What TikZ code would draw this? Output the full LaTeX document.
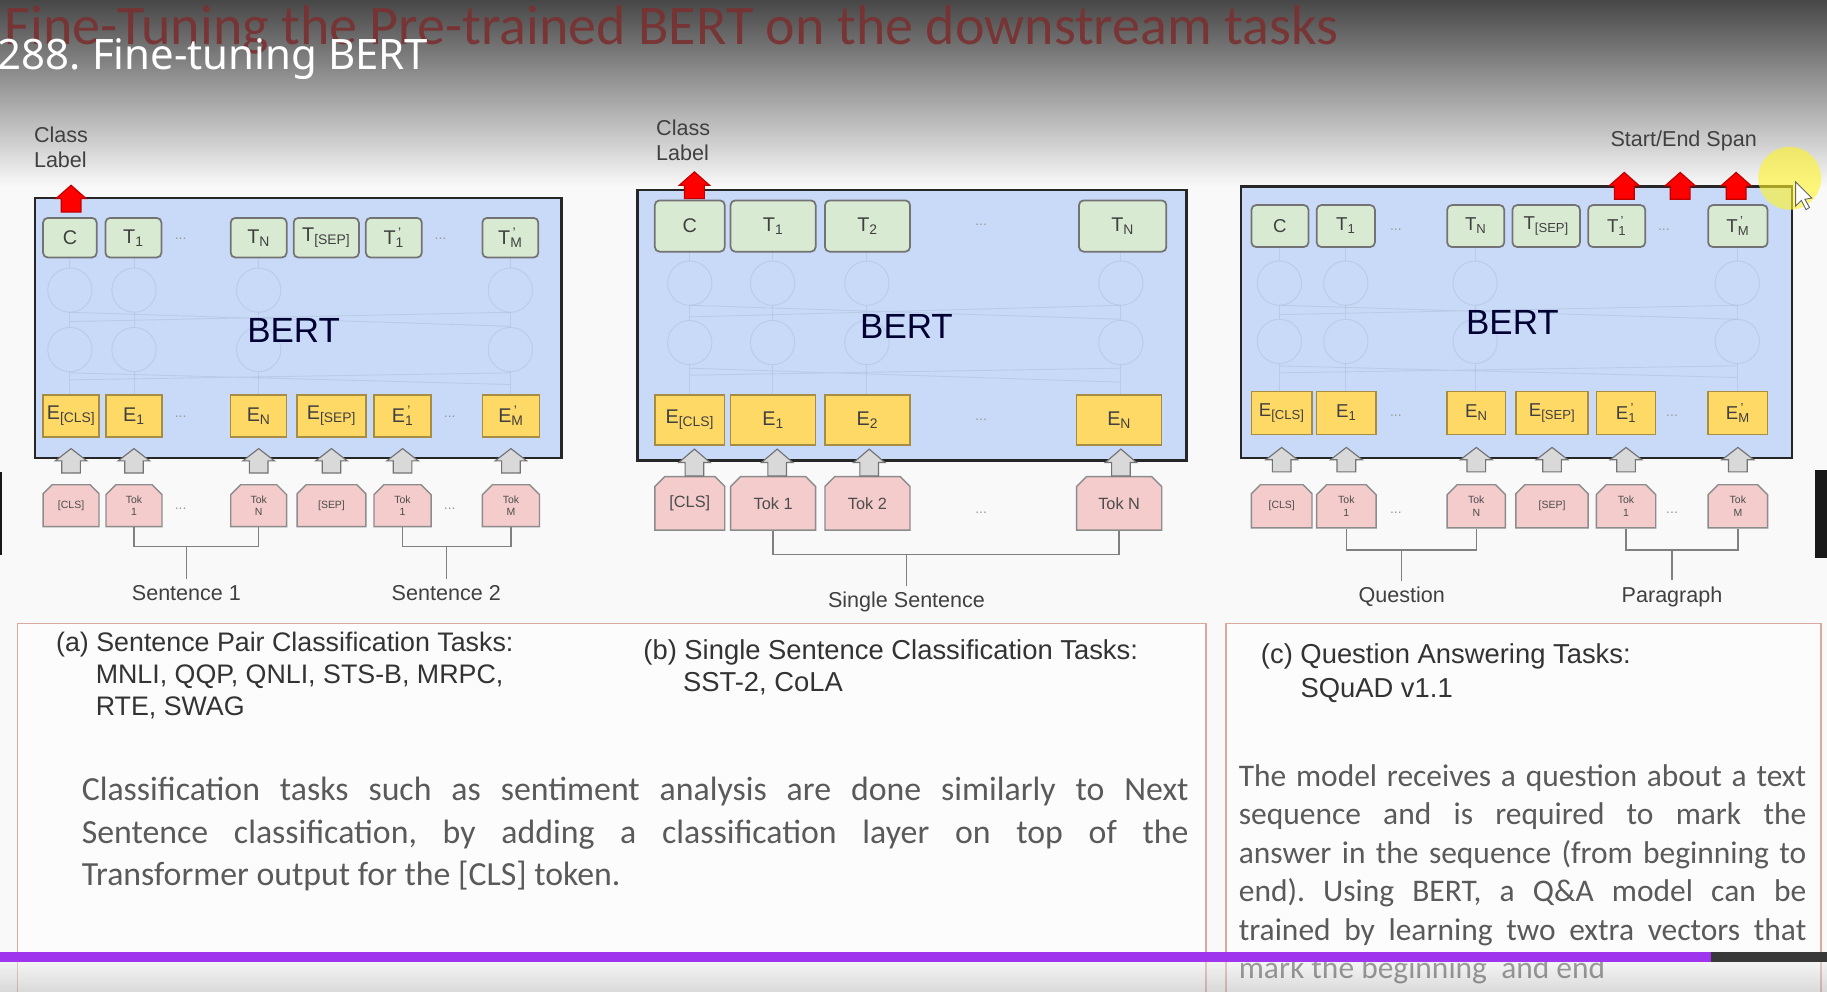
\documentclass[tikz,border=0pt]{standalone}
\usepackage{fontspec}
\setmainfont{Liberation Sans}
\newfontfamily\bodyfont{Carlito}
\newfontfamily\playerfont{Noto Sans}
\usetikzlibrary{shapes.misc}
\definecolor{bertblue}{HTML}{C9DAF8}
\definecolor{outgreen}{HTML}{D9EAD3}
\definecolor{embyellow}{HTML}{FFD966}
\definecolor{tokpink}{HTML}{F4CCCC}
\definecolor{framered}{HTML}{D9A9A0}
\definecolor{barpurple}{HTML}{A035EE}
\definecolor{titlered}{HTML}{7A3030}
\definecolor{bodygray}{HTML}{5A5A5A}
\definecolor{netline}{HTML}{A9B9D3}
\newcommand{\tsub}[2]{#1\textsubscript{#2}}
\newcommand{\tsubp}[2]{#1\rlap{\textsuperscript{\,'}}\textsubscript{#2}}
\frenchspacing
\tikzset{
  bertbox/.style={draw=black!85, line width=2.4pt, fill=bertblue, inner sep=0pt},
  bertlabel/.style={text=black!80!blue, inner sep=0pt, font=\fontsize{30}{32}\selectfont},
  outtok/.style={draw=black!55, line width=1.5pt, fill=outgreen, rounded corners=4pt, inner sep=0pt, text=black!75},
  embtok/.style={draw=black!35!embyellow, line width=1.2pt, fill=embyellow, inner sep=0pt, text=black!75},
  intok/.style={chamfered rectangle, chamfered rectangle corners={north west,north east}, chamfered rectangle xsep=5pt,
    draw=black!45, line width=1.2pt, fill=tokpink, inner sep=0pt, text=black!70, align=center},
  gapdots/.style={text=black!40, inner sep=0pt, font=\fontsize{12}{12}\selectfont},
  % block arrows: y axis points down, so the tip is at negative y
  blockup/.pic={\path[pic actions] (-8,10.5) -- (-8,0) -- (-13.5,0) -- (0,-10.5) -- (13.5,0) -- (8,0) -- (8,10.5) -- cycle;},
  blockout/.pic={\path[pic actions] (-8.5,11.5) -- (-8.5,0) -- (-13,0) -- (0,-11.5) -- (13,0) -- (8.5,0) -- (8.5,11.5) -- cycle;},
  uparrow/.style={draw=black!55, fill=black!15, line width=1pt},
  outarrow/.style={draw=red!75!black, fill=red, line width=1pt},
  brace/.style={draw=black!50, line width=1.3pt},
  net/.style={draw=netline, line width=0.8pt, opacity=0.45},
  caption/.style={text=black!75, inner sep=0pt, font=\fontsize{18.5}{21}\selectfont},
  heading/.style={text=black!80, inner sep=0pt, align=left, anchor=north west, font=\fontsize{23}{27.5}\selectfont},
  prose/.style={text=bodygray, inner sep=0pt, align=justify, anchor=north west},
  taskframe/.style={draw=framered, line width=1.3pt, fill=white!98!gray}
}

\begin{document}
\begin{tikzpicture}[x=1pt,y=-1pt]
\clip (0,0) rectangle (1568,851);
% background and slide header
\fill[white!95!gray] (0,0) rectangle (1568,851);
\shade[top color=black!72, middle color=black!38, bottom color=white!95!gray] (0,0) rectangle (1568,160);
\node[anchor=base west, inner sep=0pt, text=titlered, opacity=0.9, font=\bodyfont\fontsize{48}{52}\selectfont] (slidetitle) at (4,38) {Fine-Tuning the Pre-trained BERT on the downstream tasks};
\node[anchor=base west, inner sep=0pt, text=white, font=\playerfont\fontsize{36}{40}\selectfont] (videotitle) at (-2,60) {288. Fine-tuning BERT};

% (a) sentence pair
\node[bertbox, minimum width=452, minimum height=223] (a-bert) at (256,281.5) {};
\foreach \x in {60,115,222,438} {
  \draw[net] (\x,249) circle (19) (\x,300) circle (19);
  \draw[net] (\x,221) -- (\x,230) (\x,268) -- (\x,281) (\x,319) -- (\x,339);
}
\draw[net] (60,276) -- (438,268) (60,268) -- (438,280) (60,326) -- (438,320) (60,320) -- (438,330);
\begin{scope}[outtok/.append style={minimum height=34, font=\fontsize{17}{20}\selectfont},
  embtok/.append style={minimum height=36, font=\fontsize{17}{20}\selectfont},
  intok/.append style={minimum height=36, minimum width=48, font=\fontsize{9}{11}\selectfont}]
  \node[outtok, minimum width=46] (a-c) at (60,204) {C};
  \node[outtok, minimum width=48] (a-t1) at (114.5,204) {\tsub{T}{1}};
  \node[gapdots] (a-d1) at (155,205) {...};
  \node[outtok, minimum width=48] (a-tn) at (222,204) {\tsub{T}{N}};
  \node[outtok, minimum width=56] (a-tsep) at (280,204) {\tsub{T}{[SEP]}};
  \node[outtok, minimum width=48] (a-t1p) at (338,204) {\tsubp{T}{1}};
  \node[gapdots] (a-d2) at (378,205) {...};
  \node[outtok, minimum width=48] (a-tmp) at (438,204) {\tsubp{T}{M}};
  \node[embtok, minimum width=48] (a-ecls) at (61,357) {\tsub{E}{[CLS]}};
  \node[embtok, minimum width=48] (a-e1) at (115,357) {\tsub{E}{1}};
  \node[gapdots] (a-d3) at (155,358) {...};
  \node[embtok, minimum width=48] (a-en) at (222,357) {\tsub{E}{N}};
  \node[embtok, minimum width=59] (a-esep) at (284.5,357) {\tsub{E}{[SEP]}};
  \node[embtok, minimum width=49] (a-e1p) at (345.5,357) {\tsubp{E}{1}};
  \node[gapdots] (a-d4) at (386,358) {...};
  \node[embtok, minimum width=49] (a-emp) at (438.5,357) {\tsubp{E}{M}};
  \node[intok] (a-pcls) at (61,434) {[CLS]};
  \node[intok] (a-p1) at (115,434) {Tok\\1};
  \node[gapdots] (a-d5) at (155,437) {...};
  \node[intok] (a-pn) at (222,434) {Tok\\N};
  \node[intok, minimum width=59] (a-psep) at (284.5,434) {[SEP]};
  \node[intok, minimum width=49] (a-p1p) at (345.5,434) {Tok\\1};
  \node[gapdots] (a-d6) at (386,437) {...};
  \node[intok, minimum width=49] (a-pm) at (438.5,434) {Tok\\M};
\end{scope}
\node[bertlabel] (a-lab) at (252,284) {BERT};
\pic[uparrow] (a-u1) at (61,395.5) {blockup};
\pic[uparrow] (a-u2) at (115,395.5) {blockup};
\pic[uparrow] (a-u3) at (222,395.5) {blockup};
\pic[uparrow] (a-u4) at (284.5,395.5) {blockup};
\pic[uparrow] (a-u5) at (345.5,395.5) {blockup};
\pic[uparrow] (a-u6) at (438.5,395.5) {blockup};
\pic[outarrow] (a-out) at (61,170.5) {blockout};
\node[caption, anchor=north west, align=left] (a-class) at (29,109) {Class\\Label};
\coordinate (a-s1) at (160,469);
\coordinate (a-s2) at (383,469);
\node[caption] (a-sent1) at (160,509) {Sentence 1};
\node[caption] (a-sent2) at (383,509) {Sentence 2};
\draw[brace] (a-p1.south) |- (a-s1) -| (a-pn.south);
\draw[brace] (a-p1p.south) |- (a-s2) -| (a-pm.south);
\draw[brace, shorten >=5pt] (a-s1) -- (a-sent1.north);
\draw[brace, shorten >=5pt] (a-s2) -- (a-sent2.north);

% (b) single sentence
\node[bertbox, minimum width=471, minimum height=232] (b-bert) at (782.5,279) {};
\foreach \x in {592,663,744,962} {
  \draw[net] (\x,243) circle (19) (\x,294) circle (19);
  \draw[net] (\x,216) -- (\x,224) (\x,262) -- (\x,275) (\x,313) -- (\x,339);
}
\draw[net] (592,272) -- (962,262) (592,262) -- (962,274) (592,322) -- (962,316) (592,316) -- (962,328);
\begin{scope}[outtok/.append style={minimum height=44, font=\fontsize{17}{20}\selectfont},
  embtok/.append style={minimum height=43, font=\fontsize{17}{20}\selectfont},
  intok/.append style={minimum height=46, font=\fontsize{14}{16}\selectfont}]
  \node[outtok, minimum width=60] (b-c) at (592,194) {C};
  \node[outtok, minimum width=73] (b-t1) at (663.5,194) {\tsub{T}{1}};
  \node[outtok, minimum width=73] (b-t2) at (744.5,194) {\tsub{T}{2}};
  \node[gapdots] (b-d1) at (842,193) {...};
  \node[outtok, minimum width=75] (b-tn) at (963.5,194) {\tsub{T}{N}};
  \node[embtok, minimum width=60] (b-ecls) at (592,360.5) {\tsub{E}{[CLS]}};
  \node[embtok, minimum width=73] (b-e1) at (663.5,360.5) {\tsub{E}{1}};
  \node[embtok, minimum width=73] (b-e2) at (744.5,360.5) {\tsub{E}{2}};
  \node[gapdots] (b-d2) at (842,360) {...};
  \node[embtok, minimum width=73] (b-en) at (960.5,360.5) {\tsub{E}{N}};
  \node[intok, minimum width=60] (b-pcls) at (592,432) {[CLS]};
  \node[intok, minimum width=73] (b-p1) at (663.5,432) {Tok 1};
  \node[intok, minimum width=73] (b-p2) at (744.5,432) {Tok 2};
  \node[gapdots] (b-d3) at (842,440) {...};
  \node[intok, minimum width=73] (b-pn) at (960.5,432) {Tok N};
\end{scope}
\node[bertlabel] (b-lab) at (778,280) {BERT};
\pic[uparrow, yscale=1.1] (b-u1) at (596,397) {blockup};
\pic[uparrow, yscale=1.1] (b-u2) at (667,397) {blockup};
\pic[uparrow, yscale=1.1] (b-u3) at (746,397) {blockup};
\pic[uparrow, yscale=1.1] (b-u4) at (962,397) {blockup};
\pic[outarrow] (b-out) at (596,159) {blockout};
\node[caption, anchor=north west, align=left] (b-class) at (563,103) {Class\\Label};
\coordinate (b-s) at (778,476);
\node[caption] (b-sent) at (778,517) {Single Sentence};
\draw[brace] (b-p1.south) |- (b-s) -| (b-pn.south);
\draw[brace, shorten >=5pt] (b-s) -- (b-sent.north);

% (c) question answering
\node[bertbox, minimum width=473, minimum height=233] (c-bert) at (1301.5,276.5) {};
\foreach \x in {1098,1155,1266,1491} {
  \draw[net] (\x,243) circle (19) (\x,293) circle (19);
  \draw[net] (\x,212) -- (\x,224) (\x,262) -- (\x,274) (\x,312) -- (\x,336);
}
\draw[net] (1098,270) -- (1491,262) (1098,262) -- (1491,274) (1098,320) -- (1491,314) (1098,314) -- (1491,324);
\begin{scope}[outtok/.append style={minimum height=36, font=\fontsize{16}{19}\selectfont},
  embtok/.append style={minimum height=37, font=\fontsize{16}{19}\selectfont},
  intok/.append style={minimum height=37, font=\fontsize{9}{11}\selectfont}]
  \node[outtok, minimum width=49] (c-c) at (1098.5,194) {C};
  \node[outtok, minimum width=50] (c-t1) at (1155,194) {\tsub{T}{1}};
  \node[gapdots] (c-d1) at (1198,197) {...};
  \node[outtok, minimum width=49] (c-tn) at (1266.5,194) {\tsub{T}{N}};
  \node[outtok, minimum width=58] (c-tsep) at (1327,194) {\tsub{T}{[SEP]}};
  \node[outtok, minimum width=49] (c-t1p) at (1387.5,194) {\tsubp{T}{1}};
  \node[gapdots] (c-d2) at (1428,197) {...};
  \node[outtok, minimum width=51] (c-tmp) at (1491.5,194) {\tsubp{T}{M}};
  \node[embtok, minimum width=52] (c-ecls) at (1100,354.5) {\tsub{E}{[CLS]}};
  \node[embtok, minimum width=51] (c-e1) at (1155.5,354.5) {\tsub{E}{1}};
  \node[gapdots] (c-d3) at (1198,357) {...};
  \node[embtok, minimum width=50] (c-en) at (1267,354.5) {\tsub{E}{N}};
  \node[embtok, minimum width=62] (c-esep) at (1332,354.5) {\tsub{E}{[SEP]}};
  \node[embtok, minimum width=51] (c-e1p) at (1395.5,354.5) {\tsubp{E}{1}};
  \node[gapdots] (c-d4) at (1435,357) {...};
  \node[embtok, minimum width=51] (c-emp) at (1491.5,354.5) {\tsubp{E}{M}};
  \node[intok, minimum width=52] (c-pcls) at (1100,434.5) {[CLS]};
  \node[intok, minimum width=51] (c-p1) at (1155.5,434.5) {Tok\\1};
  \node[gapdots] (c-d5) at (1198,440) {...};
  \node[intok, minimum width=50] (c-pn) at (1267,434.5) {Tok\\N};
  \node[intok, minimum width=62] (c-psep) at (1332,434.5) {[SEP]};
  \node[intok, minimum width=51] (c-p1p) at (1395.5,434.5) {Tok\\1};
  \node[gapdots] (c-d6) at (1435,440) {...};
  \node[intok, minimum width=51] (c-pm) at (1491.5,434.5) {Tok\\M};
\end{scope}
\node[bertlabel] (c-lab) at (1298,277) {BERT};
\pic[uparrow] (c-u1) at (1100,394.5) {blockup};
\pic[uparrow] (c-u2) at (1155.5,394.5) {blockup};
\pic[uparrow] (c-u3) at (1267,394.5) {blockup};
\pic[uparrow] (c-u4) at (1332,394.5) {blockup};
\pic[uparrow] (c-u5) at (1395.5,394.5) {blockup};
\pic[uparrow] (c-u6) at (1491.5,394.5) {blockup};
\pic[outarrow] (c-start) at (1394,159.5) {blockout};
\pic[outarrow] (c-mid) at (1442,159.5) {blockout};
\pic[outarrow] (c-end) at (1490,159.5) {blockout};
\node[caption] (c-span) at (1445,121) {Start/End Span};
\coordinate (c-s1) at (1203,472);
\coordinate (c-s2) at (1435,472);
\node[caption] (c-quest) at (1203,512) {Question};
\node[caption] (c-para) at (1435,512) {Paragraph};
\draw[brace] (c-p1.south) |- (c-s1) -| (c-pn.south);
\draw[brace] (c-p1p.south) |- (c-s2) -| (c-pm.south);
\draw[brace, shorten >=5pt] (c-s1) -- (c-quest.north);
\draw[brace, shorten >=5pt] (c-s2) -- (c-para.north);

% task descriptions
\draw[taskframe] (15,535) rectangle (1035,880);
\draw[taskframe] (1052,535) rectangle (1563,880);
\node[heading] (a-tasks) at (48,542)
  {(a) Sentence Pair Classification Tasks:\\\hspace*{34pt}MNLI, QQP, QNLI, STS-B, MRPC,\\\hspace*{34pt}RTE, SWAG};
\node[heading, font=\fontsize{23.5}{27.5}\selectfont] (b-tasks) at (552,549)
  {(b) Single Sentence Classification Tasks:\\\hspace*{34pt}SST-2, CoLA};
\node[heading, font=\fontsize{23.5}{29}\selectfont] (c-tasks) at (1082,552)
  {(c) Question Answering Tasks:\\\hspace*{34pt}SQuAD v1.1};
\node[prose, text width=950, font=\bodyfont\fontsize{29}{36.5}\selectfont] (ab-text) at (70,667)
  {Classification tasks such as sentiment analysis are done similarly to Next\linebreak
   Sentence classification, by adding a classification layer on top of the\linebreak
   Transformer output for the [CLS] token.};
\node[prose, text width=487, font=\bodyfont\fontsize{27}{33}\selectfont] (c-text) at (1063,656)
  {The model receives a question about a text\linebreak
   sequence and is required to mark the\linebreak
   answer in the sequence (from beginning to\linebreak
   end). Using BERT, a Q\&A model can be\linebreak
   trained by learning two extra vectors that\linebreak
   mark the beginning \ and end};

% video player overlay
\fill[yellow!85!white, opacity=0.6] (1536,153) circle (27);
\draw[black!60, fill=white, line width=0.8pt] (1541,156) -- (1541,177) -- (1546,172) -- (1550,180) -- (1553,178) -- (1549,171) -- (1555,170) -- cycle;
\fill[black!90] (1558,403) rectangle (1568,479);
\fill[black!90] (0,405) rectangle (2,476);
\fill[barpurple] (0,817) rectangle (1468,826);
\fill[black!55!gray] (1468,817) rectangle (1568,826);
\shade[top color=black!8, bottom color=black!30, opacity=0.45] (0,826) rectangle (1568,851);
\end{tikzpicture}
\end{document}
